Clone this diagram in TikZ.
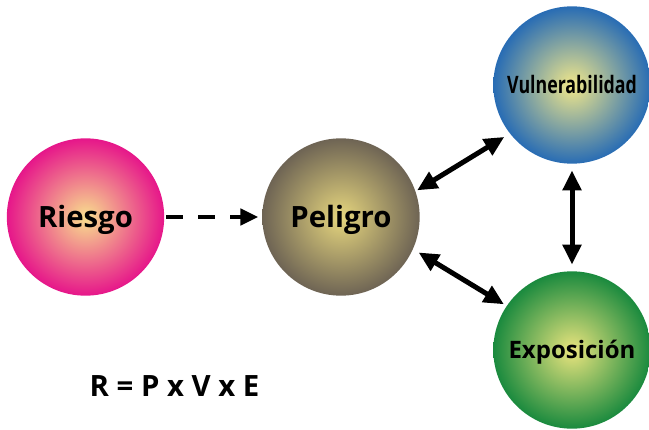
\documentclass[tikz,border=0pt]{standalone}
\usepackage{fontspec}
\setmainfont{Open Sans}
\usetikzlibrary{arrows.meta}
\definecolor{pinkin}{RGB}{248,224,142}
\definecolor{pinkout}{RGB}{230,22,138}
\definecolor{brownin}{RGB}{230,214,126}
\definecolor{brownout}{RGB}{110,100,84}
\definecolor{bluein}{RGB}{242,232,138}
\definecolor{blueout}{RGB}{40,108,180}
\definecolor{greenin}{RGB}{234,228,126}
\definecolor{greenout}{RGB}{26,138,62}
\pgfdeclareradialshading{orbpink}{\pgfpointorigin}{color(0bp)=(pinkin); color(25bp)=(pinkout); color(50bp)=(pinkout)}
\pgfdeclareradialshading{orbbrown}{\pgfpointorigin}{color(0bp)=(brownin); color(25bp)=(brownout); color(50bp)=(brownout)}
\pgfdeclareradialshading{orbblue}{\pgfpointorigin}{color(0bp)=(bluein); color(25bp)=(blueout); color(50bp)=(blueout)}
\pgfdeclareradialshading{orbgreen}{\pgfpointorigin}{color(0bp)=(greenin); color(25bp)=(greenout); color(50bp)=(greenout)}
\tikzset{
  orb/.style={circle, minimum size=118pt, inner sep=0pt, outer sep=0pt, text depth=0pt},
  bigtext/.style={font=\fontsize{22pt}{26pt}\selectfont\bfseries, text height=15.7pt},
  smalltext/.style={font=\fontsize{18pt}{22pt}\selectfont\bfseries, text height=12.8pt},
  twoway/.style={{Triangle[length=15pt,width=13.5pt]}-{Triangle[length=15pt,width=13.5pt]}, line width=3.75pt},
  oneway/.style={-{Triangle[length=13.5pt,width=12pt]}, line width=3.5pt, dash pattern=on 12.75pt off 11.25pt}
}
\begin{document}
\begin{tikzpicture}[x=0.75pt,y=-0.75pt]
\useasboundingbox (0,0) rectangle (649,429);
% circles
\node[orb, bigtext, shading=orbpink] (riesgo) at (85.5,217) {Riesgo};
\node[orb, bigtext, shading=orbbrown] (peligro) at (341,217) {Peligro};
\node[orb, smalltext, shading=orbblue] (vuln) at (572,85) {\scalebox{0.74}[1]{Vulnerabilidad}};
\node[orb, smalltext, shading=orbgreen] (expo) at (572,350) {Exposición};
% connectors
\draw[oneway, shorten <=1.5pt, shorten >=3pt] (riesgo) -- (peligro);
\draw[twoway, shorten <=1.5pt, shorten >=5pt] (peligro.19) -- (vuln.218);
\draw[twoway, shorten <=5pt, shorten >=2.5pt] (peligro.-24) -- (expo.146);
\draw[twoway, shorten <=5pt, shorten >=5pt] (vuln) -- (expo);
% formula
\node[bigtext, inner sep=0pt, text depth=0pt] (formula) at (174.5,386) {R = P x V x E};
\end{tikzpicture}
\end{document}
